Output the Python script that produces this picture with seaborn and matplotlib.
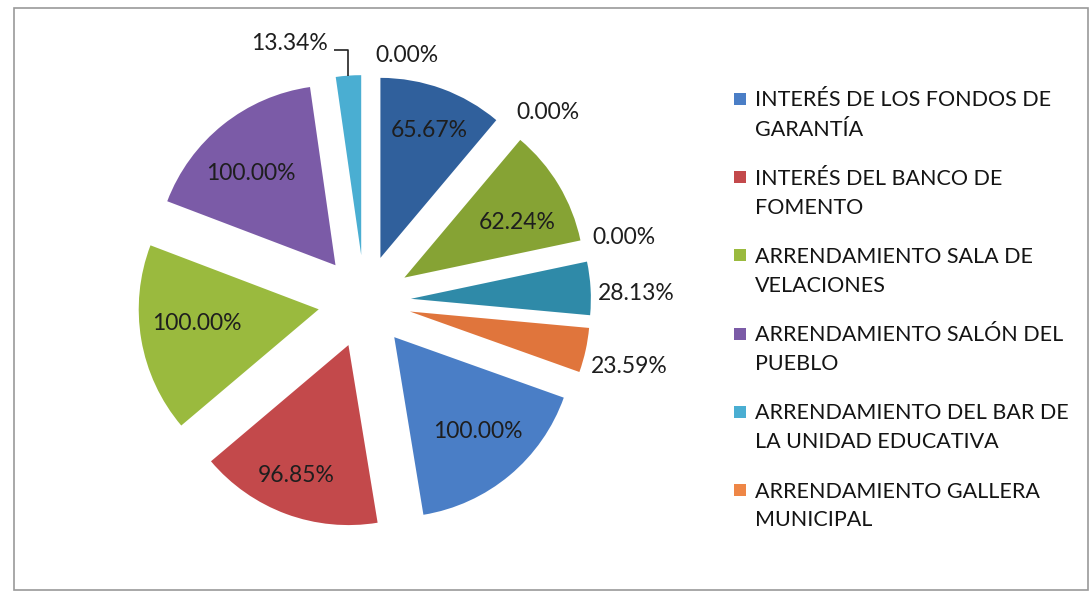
import numpy as np
import matplotlib
matplotlib.use("Agg")
import matplotlib.pyplot as plt
import seaborn as sns
from matplotlib.patches import Rectangle

# ---------------- data ----------------
categories = [
    "INTERÉS DE LOS FONDOS DE\nGARANTÍA",
    "INTERÉS DEL BANCO DE\nFOMENTO",
    "ARRENDAMIENTO SALA DE\nVELACIONES",
    "ARRENDAMIENTO SALÓN DEL\nPUEBLO",
    "ARRENDAMIENTO DEL BAR DE\nLA UNIDAD EDUCATIVA",
    "ARRENDAMIENTO GALLERA\nMUNICIPAL",
]
series_a = [65.67, 0.00, 62.24, 0.00, 28.13, 23.59]     # first ring of points
series_b = [100.00, 96.85, 100.00, 100.00, 13.34, 0.00]  # second ring of points

# ---------------- style ----------------
base_colors = ["#4a7ec6", "#c3494b", "#9aba3e", "#7b5ba7", "#4aaed2", "#ee8646"]
dark_colors = ["#30609c", "#9c3a3a", "#86a334", "#5e4688", "#2f8aa8", "#e0753c"]

values = series_a + series_b
colors = dark_colors + base_colors

sns.set_theme(style="white")
plt.rcParams["font.family"] = ["Lato", "DejaVu Sans"]

W, H = 1090, 597
fig = plt.figure(figsize=(W / 100, H / 100), dpi=100)
fig.patch.set_facecolor("white")

R_PX = 180.0          # pie radius in pixels
CX, CY = 364.5, H - 301.5
EXPLODE = 0.258

ax = fig.add_axes([0, 0, 1, 1])
wedges, _ = ax.pie(values, colors=colors, startangle=90, counterclock=False,
                   explode=[EXPLODE] * len(values), radius=1.0,
                   wedgeprops=dict(linewidth=0))
ax.set_xlim(-CX / R_PX, (W - CX) / R_PX)
ax.set_ylim(-CY / R_PX, (H - CY) / R_PX)
ax.set_aspect("equal")
ax.axis("off")

LABEL_FS = 16.5
LABEL_COLOR = "#1e1e1e"
# per-point label placement (radial distance, angle shift in degrees)
inside_dist = {0: 0.76, 2: 0.70, 6: 0.70, 7: 0.78, 8: 0.68, 9: 0.69}
inside_shift = {0: -1.0, 2: -5.0, 6: 2.0, 7: -1.5, 8: -3.0, 9: 4.0}
outside_place = {1: (1.09, 1.6), 3: (1.055, 4.6), 4: (1.04, -1.8),
                 5: (1.05, -4.6), 11: (1.11, -3.0)}

for i, (w, v) in enumerate(zip(wedges, values)):
    mid = np.deg2rad((w.theta1 + w.theta2) / 2)
    cx, cy = w.center
    txt = f"{v:.2f}%"
    if i in inside_dist:
        d = inside_dist[i]
        a = mid + np.deg2rad(inside_shift[i])
        ax.text(cx + d * np.cos(a), cy + d * np.sin(a), txt, ha="center",
                va="center", fontsize=LABEL_FS, color=LABEL_COLOR)
    elif i in outside_place:
        d, shift = outside_place[i]
        a = mid + np.deg2rad(shift)
        x, y = cx + d * np.cos(a), cy + d * np.sin(a)
        ax.text(x, y, txt, ha="left" if np.cos(a) >= 0 else "right",
                va="center", fontsize=LABEL_FS, color=LABEL_COLOR)
    else:
        # label with leader line
        x0, y0 = cx + np.cos(mid), cy + np.sin(mid)
        x1, y1 = x0, y0 + 0.14
        x2, y2 = x1 - 0.08, y1
        ax.plot([x0, x1, x2], [y0, y1, y2], color="#222222", lw=1.2,
                solid_capstyle="butt")
        ax.text(x2 - 0.033, y2 + 0.04, txt, ha="right", va="center",
                fontsize=LABEL_FS, color=LABEL_COLOR)

# ---------------- legend (drawn as text + swatches) ----------------
LEG_SQ_X, LEG_SQ = 734, 12
LEG_TXT_X = 755
LEG_Y0, LEG_STEP, LEG_LINE = 99, 78.2, 29
for k, (lab, col) in enumerate(zip(categories, base_colors)):
    yc = LEG_Y0 + k * LEG_STEP
    fig.patches.append(Rectangle((LEG_SQ_X / W, 1 - (yc + LEG_SQ / 2) / H),
                                 LEG_SQ / W, LEG_SQ / H, transform=fig.transFigure,
                                 facecolor=col, edgecolor="none"))
    for j, line in enumerate(lab.split("\n")):
        fig.text(LEG_TXT_X / W, 1 - (yc + 7.5 + j * LEG_LINE) / H, line,
                 ha="left", va="baseline", fontsize=15.5, color="#141414")

# chart frame
fig.patches.append(Rectangle((14 / W, 1 - 590 / H), (1088 - 14) / W, (590 - 8) / H,
                             transform=fig.transFigure, facecolor="none",
                             edgecolor="#9a9a9a", lw=1.2))

fig.savefig("out.png", dpi=100, facecolor="white")
